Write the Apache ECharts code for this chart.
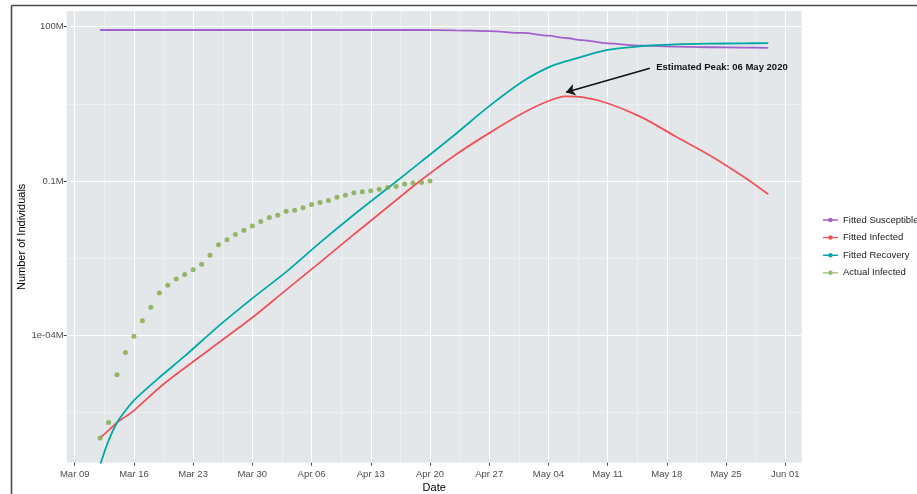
<!DOCTYPE html>
<html>
<head>
<meta charset="utf-8">
<script src="https://cdn.jsdelivr.net/npm/echarts@6/dist/echarts.min.js"></script>
<style>html,body{margin:0;padding:0;background:#fff;}#c{width:917px;height:494px;}</style>
</head>
<body>
<div id="c"></div>
<script>
// ---------- data (values in millions) ----------
const fitDates = ['2020-03-12','2020-03-13','2020-03-14','2020-03-15','2020-03-16','2020-03-19','2020-03-22','2020-03-26','2020-03-30','2020-04-03','2020-04-07','2020-04-11','2020-04-15','2020-04-19','2020-04-23','2020-04-27','2020-05-01','2020-05-04','2020-05-06','2020-05-08','2020-05-11','2020-05-15','2020-05-19','2020-05-23','2020-05-27','2020-05-30'];
const fittedSusceptible = [86.3,86.3,86.3,86.3,86.3,86.3,86.3,86.3,86.3,86.3,86.3,86.3,86.3,86.3,85.1,82.2,75.5,66.8,60.3,55.0,47.4,42.7,41.1,39.8,39.2,38.9];
const fittedInfected = [1.0e-6,1.4e-6,2.0e-6,2.6e-6,3.4e-6,9.5e-6,2.3e-5,7.1e-5,2.2e-4,7.6e-4,2.6e-3,9.1e-3,0.031,0.105,0.32,0.85,2.09,3.59,4.42,4.27,3.24,1.74,0.74,0.32,0.123,0.055];
const fittedRecovery = [3.0e-7,8.9e-7,2.0e-6,3.4e-6,5.4e-6,1.5e-5,3.9e-5,1.5e-4,5.2e-4,1.7e-3,6.3e-3,0.022,0.072,0.24,0.81,2.85,8.7,16.2,21.1,26.3,35.5,41.7,45.2,46.8,47.4,47.9];

const actualDates = ['2020-03-12','2020-03-13','2020-03-14','2020-03-15','2020-03-16','2020-03-17','2020-03-18','2020-03-19','2020-03-20','2020-03-21','2020-03-22','2020-03-23','2020-03-24','2020-03-25','2020-03-26','2020-03-27','2020-03-28','2020-03-29','2020-03-30','2020-03-31','2020-04-01','2020-04-02','2020-04-03','2020-04-04','2020-04-05','2020-04-06','2020-04-07','2020-04-08','2020-04-09','2020-04-10','2020-04-11','2020-04-12','2020-04-13','2020-04-14','2020-04-15','2020-04-16','2020-04-17','2020-04-18','2020-04-19','2020-04-20'];
const actualInfected = [1.0e-6,2.0e-6,1.7e-5,4.6e-5,9.5e-5,1.9e-4,3.5e-4,6.6e-4,9.3e-4,1.23e-3,1.51e-3,1.86e-3,2.4e-3,3.6e-3,5.7e-3,7.2e-3,9.1e-3,0.011,0.0132,0.0162,0.0195,0.0214,0.0257,0.0269,0.0302,0.0347,0.038,0.0417,0.0479,0.0525,0.0589,0.0617,0.0646,0.0692,0.0741,0.0776,0.0871,0.0912,0.0933,0.100];

const seriesNames = ['Fitted Susceptible','Fitted Infected','Fitted Recovery','Actual Infected'];

// ---------- axes / ticks ----------
const xTicks = ['2020-03-09','2020-03-16','2020-03-23','2020-03-30','2020-04-06','2020-04-13','2020-04-20','2020-04-27','2020-05-04','2020-05-11','2020-05-18','2020-05-25','2020-06-01'];
const xTickLabels = ['Mar 09','Mar 16','Mar 23','Mar 30','Apr 06','Apr 13','Apr 20','Apr 27','May 04','May 11','May 18','May 25','Jun 01'];
const xMinorTicks = ['2020-03-12 12:00','2020-03-19 12:00','2020-03-26 12:00','2020-04-02 12:00','2020-04-09 12:00','2020-04-16 12:00','2020-04-23 12:00','2020-04-30 12:00','2020-05-07 12:00','2020-05-14 12:00','2020-05-21 12:00','2020-05-28 12:00'];
const xMin = '2020-03-08 01:12';
const xMax = '2020-06-02 22:48';

const yTicks = [100, 0.1, 0.0001];
const yTickLabels = ['100M','0.1M','1e-04M'];
const yMinorTicks = [3.1623, 0.0031623, 0.0000031623];
const yMin = 3.3e-7;
const yMax = 202;

// annotation
const peakText = 'Estimated Peak: 06 May 2020';
const arrowFrom = ['2020-05-16', 15.5];
const arrowTo = ['2020-05-06 02:00', 5.3];
const textAt = ['2020-05-16 18:00', 16.2];

const colors = {sus:'#A062CC', inf:'#F0525C', rec:'#00A9A6', act:'#7FA948'};
const FONT = 'Liberation Sans, Arial, sans-serif';

const t = s => echarts.time.parse(s).getTime();
const xTickTimes = xTicks.map(t);
const yTickExp = yTicks.map(Math.log10);

const chart = echarts.init(document.getElementById('c'), null, {renderer:'canvas'});

const legendIcon = 'path://M0,4.1 L20,4.1 L20,5.9 L0,5.9 Z M10,2.0 A3,3 0 1,1 9.99,2.0 Z';

const option = {
  animation: false,
  backgroundColor: '#ffffff',
  textStyle: {fontFamily: FONT},
  grid: {left: 66.7, top: 11, right: 115.3, bottom: 31.3, show: true, backgroundColor: '#E4E7EA', borderWidth: 0, containLabel: false, outerBoundsMode: 'none'},
  legend: {
    orient: 'vertical', left: 818, top: 210,
    data: seriesNames,
    icon: legendIcon, itemWidth: 15, itemHeight: 8, itemGap: 7.6,
    textStyle: {fontSize: 9.5, color: '#1a1a1a', fontFamily: FONT, lineHeight: 10},
    selectedMode: false
  },
  xAxis: [
    {
      type: 'value', min: t(xMin), max: t(xMax), position: 'bottom',
      name: 'Date', nameLocation: 'middle', nameGap: 19.5, nameMoveOverlap: false,
      nameTextStyle: {fontSize: 11, color: '#000', fontFamily: FONT},
      axisLine: {show: false, onZero: false},
      axisTick: {show: true, length: 3, lineStyle: {color: '#444', width: 1}, customValues: xTickTimes},
      axisLabel: {
        show: true, margin: 6.5, fontSize: 9.5, color: '#4D4D4D', fontFamily: FONT,
        customValues: xTickTimes,
        formatter: function (v) {
          let best = -1, bd = Infinity;
          xTickTimes.forEach((tt, i) => { const d = Math.abs(tt - v); if (d < bd) { bd = d; best = i; } });
          return bd < 3600000 ? xTickLabels[best] : '';
        },
        hideOverlap: false
      },
      splitLine: {show: true, lineStyle: {color: '#ffffff', width: 1.1}}
    },
    {
      type: 'value', min: t(xMin), max: t(xMax), position: 'top',
      axisLine: {show: false, onZero: false},
      axisTick: {show: false, customValues: xMinorTicks.map(t)},
      axisLabel: {show: false, customValues: xMinorTicks.map(t)},
      splitLine: {show: true, lineStyle: {color: '#F4F5F6', width: 0.6}}
    }
  ],
  yAxis: [
    {
      type: 'log', logBase: 10, min: yMin, max: yMax, position: 'left',
      axisLine: {show: false, onZero: false}, axisTick: {show: false}, axisLabel: {show: false}, splitLine: {show: false}
    },
    {
      type: 'value', min: Math.log10(yMin), max: Math.log10(yMax), position: 'left',
      name: 'Number of Individuals', nameLocation: 'middle', nameGap: 39, nameRotate: 90, nameMoveOverlap: false,
      nameTextStyle: {fontSize: 11, color: '#000', fontFamily: FONT},
      axisLine: {show: false, onZero: false},
      axisTick: {show: true, length: 3, lineStyle: {color: '#444', width: 1}, customValues: yTickExp},
      axisLabel: {
        show: true, margin: 3, fontSize: 9.5, color: '#4D4D4D', fontFamily: FONT,
        customValues: yTickExp,
        formatter: function (v) {
          for (let i = 0; i < yTickExp.length; i++) if (Math.abs(yTickExp[i] - v) < 1e-6) return yTickLabels[i];
          return '';
        }
      },
      splitLine: {show: true, lineStyle: {color: '#ffffff', width: 1.1}}
    },
    {
      type: 'value', min: Math.log10(yMin), max: Math.log10(yMax), position: 'right',
      axisLine: {show: false, onZero: false},
      axisTick: {show: false, customValues: yMinorTicks.map(Math.log10)},
      axisLabel: {show: false, customValues: yMinorTicks.map(Math.log10)},
      splitLine: {show: true, lineStyle: {color: '#F4F5F6', width: 0.6}}
    }
  ],
  series: [
    {
      name: seriesNames[0], type: 'line', xAxisIndex: 0, yAxisIndex: 0,
      data: fitDates.map((d, i) => [t(d), fittedSusceptible[i]]),
      showSymbol: false, symbol: 'circle', smooth: 0.3, smoothMonotone: 'x',
      color: colors.sus, lineStyle: {color: colors.sus, width: 1.8}, clip: true, z: 2
    },
    {
      name: seriesNames[1], type: 'line', xAxisIndex: 0, yAxisIndex: 0,
      data: fitDates.map((d, i) => [t(d), fittedInfected[i]]),
      showSymbol: false, symbol: 'circle', smooth: 0.3,
      color: colors.inf, lineStyle: {color: colors.inf, width: 1.8}, clip: true, z: 3,
      markLine: {
        silent: true, symbol: ['none', 'arrow'], symbolSize: 9,
        lineStyle: {color: '#111', width: 1.5, type: 'solid'},
        itemStyle: {color: '#111'},
        label: {show: false},
        emphasis: {disabled: true},
        z: 10,
        data: [[
          {coord: [t(arrowFrom[0]), arrowFrom[1]], symbol: 'none'},
          {coord: [t(arrowTo[0]), arrowTo[1]], symbol: 'arrow', symbolSize: 9, itemStyle: {color: '#111'}}
        ]]
      },
      markPoint: {
        silent: true,
        data: [{
          coord: [t(textAt[0]), textAt[1]], symbol: 'circle', symbolSize: 0,
          label: {show: true, position: 'right', distance: 0, formatter: peakText, fontSize: 9.5, fontWeight: 'bold', color: '#111', fontFamily: FONT}
        }]
      }
    },
    {
      name: seriesNames[2], type: 'line', xAxisIndex: 0, yAxisIndex: 0,
      data: fitDates.map((d, i) => [t(d), fittedRecovery[i]]),
      showSymbol: false, symbol: 'circle', smooth: 0.3,
      color: colors.rec, lineStyle: {color: colors.rec, width: 1.8}, clip: true, z: 4
    },
    {
      name: seriesNames[3], type: 'scatter', xAxisIndex: 0, yAxisIndex: 0,
      data: actualDates.map((d, i) => [t(d), actualInfected[i]]),
      symbol: 'circle', symbolSize: 5, color: colors.act, itemStyle: {color: colors.act}, z: 5
    }
  ],
  graphic: [
    {type: 'line', shape: {x1: 11.5, y1: 5.5, x2: 917, y2: 5.5}, style: {stroke: '#4a4a4a', lineWidth: 1.6}, silent: true},
    {type: 'line', shape: {x1: 11.5, y1: 5.5, x2: 11.5, y2: 494}, style: {stroke: '#4a4a4a', lineWidth: 1.6}, silent: true}
  ]
};
chart.setOption(option);
</script>
</body>
</html>
